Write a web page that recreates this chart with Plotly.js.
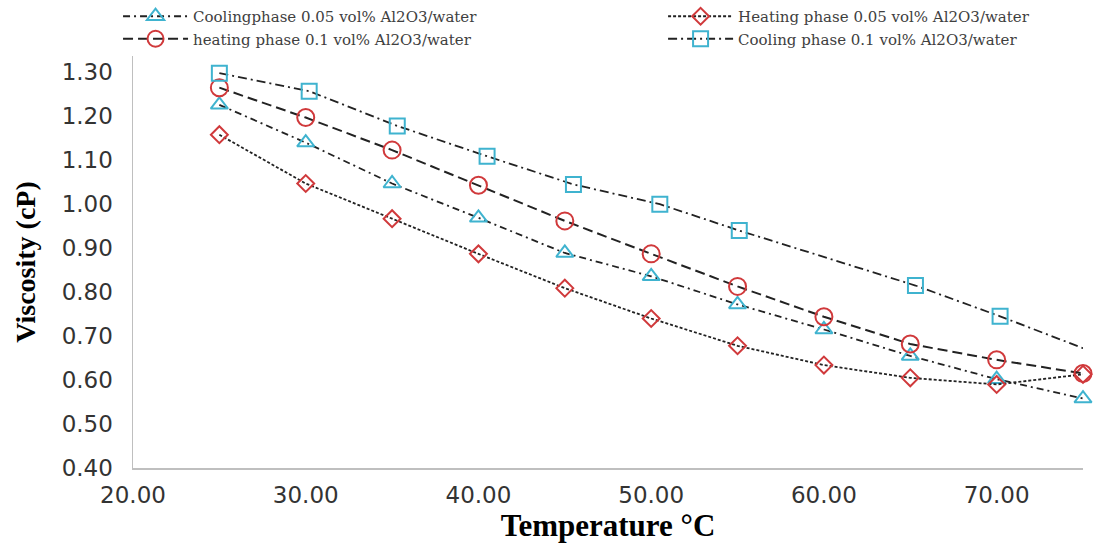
<!DOCTYPE html>
<html>
<head>
<meta charset="utf-8">
<script src="https://cdn.plot.ly/plotly-3.0.1.min.js"></script>
<style>html,body{margin:0;padding:0;background:#fff;}#chart{width:1096px;height:543px;}</style>
</head>
<body>
<div id="chart"></div>
<script>
// Temperatures (°C)
const temps = [25, 30, 35, 40, 45, 50, 55, 60, 65, 70, 75];
const tempsCooling01 = [25, 30.2, 35.3, 40.5, 45.5, 50.5, 55.1, 65.3, 70.2, 75.5];

// Viscosity (cP)
const cooling005 = [1.226, 1.14, 1.047, 0.969, 0.889, 0.836, 0.772, 0.715, 0.655, 0.602, 0.558];
const heating005 = [1.158, 1.047, 0.967, 0.887, 0.809, 0.74, 0.678, 0.634, 0.605, 0.59, 0.613];
const heating01 = [1.265, 1.197, 1.123, 1.043, 0.962, 0.887, 0.813, 0.744, 0.682, 0.646, 0.615];
const cooling01 = [1.298, 1.257, 1.178, 1.109, 1.045, 1.0, 0.94, 0.815, 0.745, 0.665];

const names = [
  "Coolingphase 0.05 vol% Al2O3/water",
  "Heating phase 0.05 vol% Al2O3/water",
  "heating phase 0.1 vol% Al2O3/water",
  "Cooling phase 0.1 vol% Al2O3/water"
];

const cyan = "#3fb3cf";
const red = "#d0393b";
const lineCol = "#222222";

const traces = [
  {
    x: temps, y: cooling005, name: names[0], type: "scatter", mode: "lines+markers",
    legend: "legend", legendrank: 1,
    line: {color: lineCol, width: 1.8, dash: "7px,4px,2px,4px"},
    marker: {symbol: "triangle-up-open", size: 15, color: cyan, line: {width: 2, color: cyan}},
    cliponaxis: false
  },
  {
    x: temps, y: heating005, name: names[1], type: "scatter", mode: "lines+markers",
    legend: "legend2", legendrank: 1,
    line: {color: lineCol, width: 1.8, dash: "3px,2px"},
    marker: {symbol: "diamond-open", size: 13, color: red, line: {width: 2, color: red}},
    cliponaxis: false
  },
  {
    x: temps, y: heating01, name: names[2], type: "scatter", mode: "lines+markers",
    legend: "legend", legendrank: 2,
    line: {color: lineCol, width: 2, dash: "10px,5px"},
    marker: {symbol: "circle-open", size: 17, color: red, line: {width: 2, color: red}},
    cliponaxis: false
  },
  {
    x: tempsCooling01, y: cooling01, name: names[3], type: "scatter", mode: "lines+markers",
    legend: "legend2", legendrank: 2,
    line: {color: lineCol, width: 1.8, dash: "9px,4px,2px,4px"},
    marker: {symbol: "square-open", size: 15, color: cyan, line: {width: 2, color: cyan}},
    cliponaxis: true
  }
];

const legendBase = {
  orientation: "h",
  xref: "container", yref: "container",
  y: 1.0, xanchor: "left", yanchor: "top",
  itemwidth: 65,
  entrywidthmode: "pixels",
  font: {family: "DejaVu Serif, serif", size: 15, color: "#404040"},
  bgcolor: "rgba(0,0,0,0)", tracegroupgap: 0
};

const layout = {
  width: 1096, height: 543,
  margin: {l: 133, r: 13, t: 56, b: 75},
  paper_bgcolor: "#ffffff", plot_bgcolor: "#ffffff",
  showlegend: true,
  legend: Object.assign({}, legendBase, {x: 0.1077, entrywidth: 520}),
  legend2: Object.assign({}, legendBase, {x: 0.605, entrywidth: 400}),
  xaxis: {
    range: [20, 75], dtick: 10, tick0: 20, tickformat: ".2f",
    showgrid: false, zeroline: false, showline: true, linecolor: "#bfbfbf", linewidth: 1.5,
    ticks: "", ticklabelstandoff: 6,
    tickfont: {family: "DejaVu Sans, sans-serif", size: 23, color: "#333333"},
    title: {text: "Temperature °C", font: {family: "Liberation Serif, serif", size: 31, color: "#000", weight: "bold"}, standoff: 4}
  },
  yaxis: {
    range: [0.4, 1.337], dtick: 0.1, tick0: 0.4, tickformat: ".2f",
    showgrid: false, zeroline: false, showline: true, linecolor: "#bfbfbf", linewidth: 1.5,
    ticks: "", ticklabelstandoff: 14,
    tickfont: {family: "DejaVu Sans, sans-serif", size: 23, color: "#333333"},
    title: {text: "Viscosity (cP)", font: {family: "Liberation Serif, serif", size: 28, color: "#000", weight: "bold"}, standoff: 18}
  }
};

Plotly.newPlot("chart", traces, layout, {displayModeBar: false, staticPlot: true});
</script>
</body>
</html>
